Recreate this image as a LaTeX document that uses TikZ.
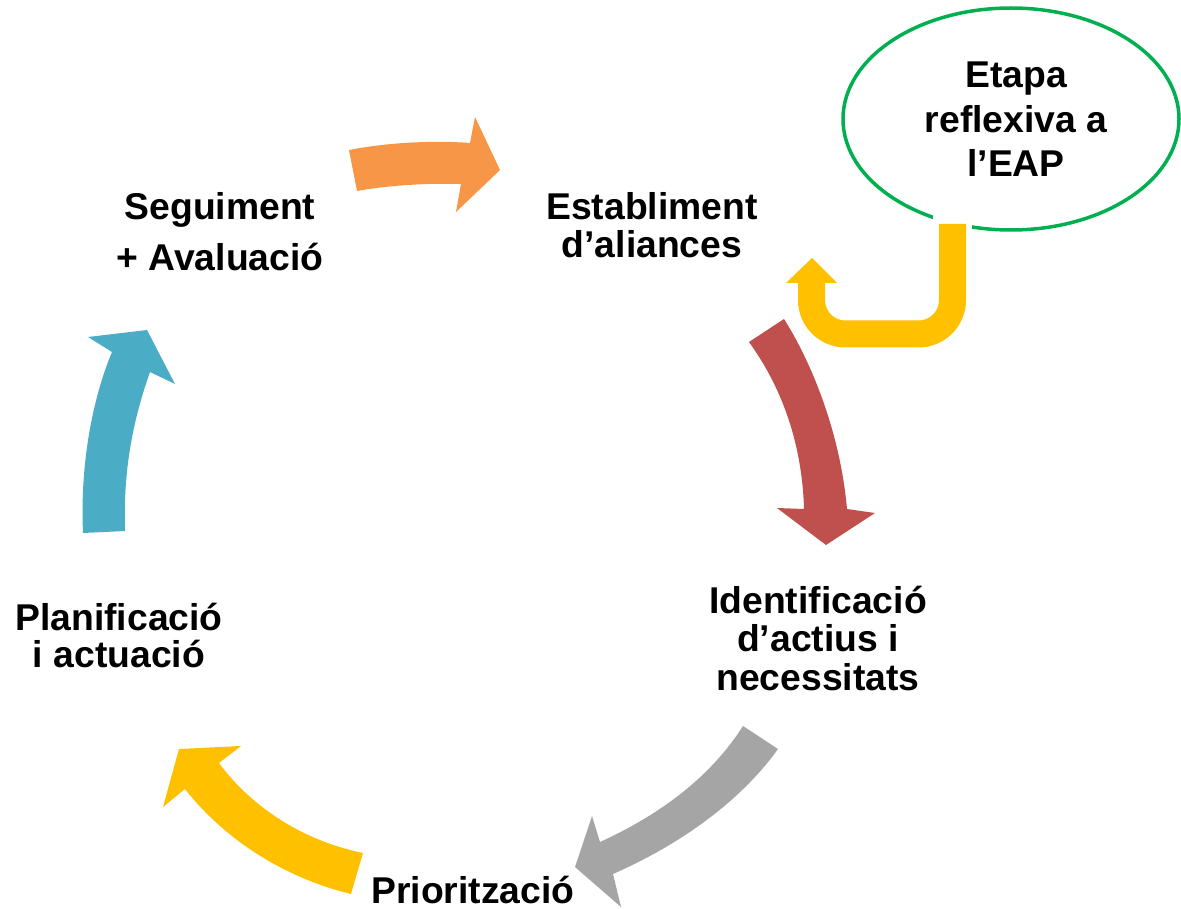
\documentclass[tikz,border=0pt]{standalone}
\usepackage{fontspec}
\setmainfont{Liberation Sans}
\usetikzlibrary{shapes.geometric}
\definecolor{cOrange}{HTML}{F79646}
\definecolor{cRed}{HTML}{C0504D}
\definecolor{cBlue}{HTML}{4BACC6}
\definecolor{cYellow}{HTML}{FFC000}
\definecolor{cGray}{HTML}{A5A5A5}
\definecolor{cGreen}{HTML}{00B050}
\begin{document}
\begin{tikzpicture}[x=1pt,y=-1pt,
  lbl/.style={inner sep=0pt, align=center, anchor=base, font=\bfseries\fontsize{37.3}{38}\selectfont}]
\useasboundingbox (0,0) rectangle (1181,909);
\fill[white] (0,0) rectangle (1181,909);
% ellipse
\node[draw=cGreen, line width=3.5pt, ellipse, minimum width=336pt, minimum height=222pt, inner sep=0pt] (ell) at (1011,119) {};
\fill[white] (933,212) rectangle (972,236);
% yellow U arrow
\draw[cYellow, line width=27pt, rounded corners=34pt] (952.5,224) -- (952.5,334) -- (811.5,334) -- (811.5,283);
\fill[cYellow] (786,283) -- (812,258) -- (837,283) -- cycle;
% orange
\fill[cOrange] (349,150) .. controls (385,143) and (430,140) .. (470,143) -- (475,117) -- (500,170) -- (456,212) -- (461,184) .. controls (430,183) and (390,185) .. (357,191) -- cycle;
% red
\fill[cRed] (749,342) -- (784,319) .. controls (810,360) and (840,430) .. (847,509) -- (875,513) -- (826,545) -- (777,508) -- (804,509) .. controls (802,440) and (780,385) .. (749,342) -- cycle;
% gray
\fill[cGray] (743,726) -- (778,749) .. controls (745,795) and (690,840) .. (613,874) -- (621,907) -- (575,867) -- (592,816) -- (600,842) .. controls (670,810) and (715,770) .. (743,726) -- cycle;
% yellow
\fill[cYellow] (363,853) .. controls (300,840) and (250,805) .. (219,763) -- (241,746) -- (179,749) -- (163,807) -- (185,789) .. controls (225,840) and (285,878) .. (351,894) -- cycle;
% blue
\fill[cBlue] (83,533) .. controls (80,465) and (92,400) .. (112,352) -- (88,337) -- (147,330) -- (175,384) -- (150,372) .. controls (133,420) and (123,470) .. (125,531) -- cycle;
% labels (base anchor = baseline of last line)
\node[lbl, font=\bfseries\fontsize{37.3}{44.5}\selectfont] (etapa) at (1016,177) {Etapa\\reflexiva a\\l’EAP};
\node[lbl, font=\bfseries\fontsize{37.3}{51}\selectfont] (seg) at (220,271) {Seguiment\\+ Avaluació};
\node[lbl] (est) at (652,258) {Establiment\\d’aliances};
\node[lbl, font=\bfseries\fontsize{37.3}{38.5}\selectfont] (ident) at (818,690) {Identificació\\d’actius i\\necessitats};
\node[lbl, font=\bfseries\fontsize{37.3}{37}\selectfont] (plan) at (119,667) {Planificació\\i actuació};
\node[lbl] (prio) at (473,903) {Priorització};
\end{tikzpicture}
\end{document}
